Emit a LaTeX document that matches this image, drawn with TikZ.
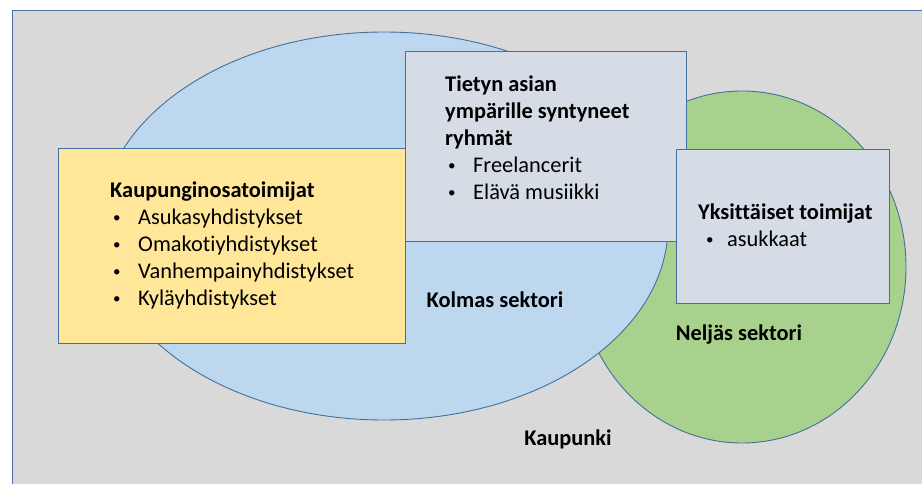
\documentclass[tikz,border=0pt]{standalone}
\usepackage{fontspec}
\setmainfont{Carlito}[Ligatures=NoCommon]
\usetikzlibrary{shapes.geometric}
\definecolor{bggray}{HTML}{D9D9D9}
\definecolor{edgeblue}{HTML}{41719C}
\definecolor{frameblue}{HTML}{4F6FA8}
\definecolor{blueell}{HTML}{BDD7EE}
\definecolor{greenell}{HTML}{A9D18E}
\definecolor{yellowbox}{HTML}{FFE699}
\definecolor{graybox}{HTML}{D6DCE5}
\tikzset{
  shapeline/.style={draw=edgeblue, line width=0.9pt, inner sep=0pt, outer sep=0pt},
  ell/.style={shapeline, ellipse},
  boxshape/.style={shapeline, rectangle, anchor=north west},
  txt/.style={anchor=base west, inner sep=0pt, font=\fontsize{22.4}{27}\selectfont},
  lbl/.style={anchor=base, inner sep=0pt, font=\fontsize{22.4}{27}\selectfont\bfseries}
}
\newcommand{\smallbullet}{\raisebox{2.2pt}{\fontsize{15}{15}\selectfont\textbullet}}
\newcommand{\bitem}[1]{\hbox{\hspace*{3pt}\makebox[25pt][l]{\smallbullet}#1}}
\begin{document}
\begin{tikzpicture}[x=1pt,y=-1pt]
\useasboundingbox (0,0) rectangle (922,484);
\clip (0,0) rectangle (922,484);
\fill[white] (0,0) rectangle (922,484);
\node[shapeline, draw=frameblue, fill=bggray, rectangle, anchor=north west,
  minimum width=930pt, minimum height=490pt] (city) at (12,10) {};
\node[ell, fill=greenell, minimum width=328pt, minimum height=352pt] (green) at (742,267) {};
\node[ell, fill=blueell, minimum width=568pt, minimum height=388pt] (blue) at (384,226) {};
\node[boxshape, fill=yellowbox, minimum width=347pt, minimum height=195pt] (yel) at (58,148) {};
\node[boxshape, fill=graybox, minimum width=281pt, minimum height=190pt] (grp) at (405,51) {};
\node[boxshape, fill=graybox, minimum width=213pt, minimum height=154pt] (ind) at (676,149) {};
\node[txt] (yeltxt) at (110,198) {\vtop{\baselineskip=27pt
  \hbox{\bfseries Kaupunginosatoimijat}
  \bitem{Asukasyhdistykset}
  \bitem{Omakotiyhdistykset}
  \bitem{Vanhempainyhdistykset}
  \bitem{Kyläyhdistykset}}};
\node[txt] (grptxt) at (445,92) {\vtop{\baselineskip=27pt
  \hbox{\bfseries Tietyn asian}
  \hbox{\bfseries ympärille syntyneet}
  \hbox{\bfseries ryhmät}
  \bitem{Freelancerit}
  \bitem{Elävä musiikki}}};
\node[txt] (indtxt) at (698,220) {\vtop{\baselineskip=27pt
  \hbox{\bfseries Yksittäiset toimijat}
  \hbox{\hspace*{8pt}\makebox[21pt][l]{\smallbullet}asukkaat}}};
\node[lbl] (third) at (495,307) {Kolmas sektori};
\node[lbl] (fourth) at (739,340) {Neljäs sektori};
\node[lbl] (town) at (568,445) {Kaupunki};
\end{tikzpicture}
\end{document}
